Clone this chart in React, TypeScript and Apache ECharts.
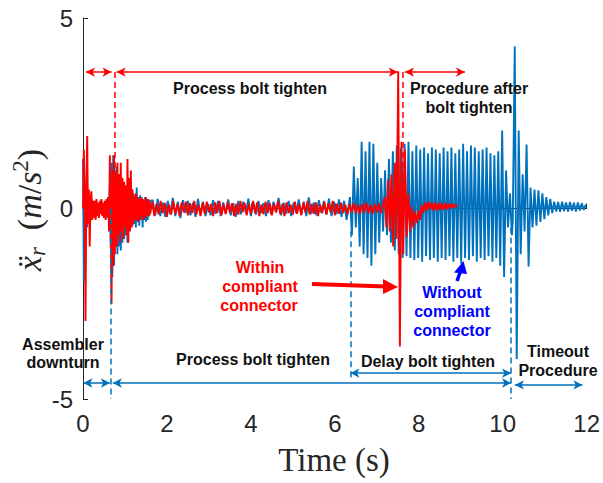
import React, { useEffect, useRef } from "react";
import * as echarts from "echarts";

// ---------- axes ----------
const xTickValues = [0, 2, 4, 6, 8, 10, 12];
const yTickValues = [-5, 0, 5];

// ---------- blue: without compliant connector (sampled segments) ----------
const blueOnsetStart = 0;
const blueOnsetStep = 0.02;
const blueOnsetValues = [
  1.3, -1.92, 0.5, -0.6, 0.4, -0.5, 0.3, -0.35, 0.25, -0.3,
  0.25, -0.22, 0.2, -0.2, 0.15, -0.25, 0.2, -0.15, 0.12, -0.2,
  0.15, -0.12, 0.2, -0.15, 0.12, -0.2, 0.15, -0.12, 0.2, -0.25,
  0.3, -0.4, 0.6, -1.0, 1.2, -1.8, 1.4, -1.5, 1.0, -0.9,
  1.1, -1.2, 0.9, -1.0, 0.8, -1.1, 0.7, -0.9, 0.6, -0.8,
  0.6, -0.7, 0.5, -0.9, 0.5, -0.6, 0.4, -0.5, 0.5, -0.45,
  0.4, -0.4, 0.35, -0.5, 0.55, -0.35, 0.3, -0.45, 0.35, -0.3,
  0.3, -0.5, 0.25, -0.3, 0.3, -0.35, 0.2, -0.3, 0.25, -0.2,
  0.2,
];
const blueQuietStart = 1.66;
const blueQuietStep = 0.06;
const blueQuietValues = [
  0.22, -0.18, 0.25, -0.2, 0.15, -0.22, 0.2, -0.15, 0.28, -0.2,
  0.18, -0.25, 0.22, -0.12, 0.2, -0.18, 0.15, -0.22, 0.25, -0.16,
  0.18, -0.2, 0.12, -0.18, 0.22, -0.14, 0.2, -0.2, 0.16, -0.12,
  0.24, -0.18, 0.14, -0.22, 0.2, -0.15, 0.18, -0.12, 0.26, -0.2,
  0.15, -0.16, 0.2, -0.12, 0.14, -0.2, 0.22, -0.15, 0.18, -0.1,
  0.28, -0.18, 0.15, -0.14, 0.2, -0.2, 0.16, -0.12, 0.24, -0.15,
  0.18, -0.2, 0.29, -0.14, 0.16, -0.18, 0.22, -0.12, 0.2, -0.16,
  0.26, -0.2, 0.18, -0.15, 0.24, -0.22, 0.2, -0.3, 0.15,
];
const blueDelayStart = 6.36;
const blueDelayStep = 0.0465;
const blueDelayValues = [
  0.3, -0.7, 1.1, -0.5, 0.8, -1.0, 1.75, -1.2, 1.5, -1.3,
  1.75, -1.5, 1.7, -1.2, 1.2, -0.9, 0.8, -0.6, 1.0, -0.7,
  1.3, -0.9, 1.5, -1.1, 1.65, -1.2, 1.6, -1.3, 1.7, -1.25,
  1.75, -1.3, 1.5, -1.35, 1.65, -1.3, 1.55, -1.4, 1.6, -1.25,
  1.45, -1.35, 1.6, -1.3, 1.55, -1.4, 1.45, -1.3, 1.6, -1.35,
  1.5, -1.25, 1.6, -1.4, 1.45, -1.3, 1.55, -1.45, 1.7, -1.3,
  1.5, -1.35, 1.65, -1.25, 1.6, -1.4, 1.5, -1.3, 1.55, -1.35,
  1.6, -1.25, 1.45, -1.4, 1.4, -1.3, 1.5, -1.5, 2.05, -1.8,
  1.0, -0.5, 0.4, -0.7,
];
const blueTimeoutStart = 10.24;
const blueTimeoutStep = 0.047;
const blueTimeoutValues = [
  -0.3, 4.25, -3.95, 2.05, -1.2, 0.9, -0.6, 1.68, -1.52, 0.55,
  -0.5, 0.5, -0.45, 0.48, -0.35, 0.4, -0.28, 0.3, -0.18, 0.25,
  -0.12, 0.18, -0.08, 0.17, -0.09, 0.18, -0.07, 0.16, -0.08, 0.17,
  -0.06, 0.15, -0.08, 0.16, -0.05, 0.14, -0.04, 0.1,
];

// ---------- red: within compliant connector ----------
const redOnsetStart = 0;
const redOnsetStep = 0.02;
const redOnsetValues = [
  0, 1.55, 0.3, -2.95, 0.6, 1.9, -0.4, 0.5, -1.0, 0.2,
  0.45, -0.3, 0.2, -0.25, 0.2, -0.3, 0.25, -0.2, 0.15, -0.25,
  0.2, -0.15, 0.25, -0.2, 0.15, -0.25, 0.2, -0.3, 0.25, -0.2,
  0.3, -0.6, 1.4, -0.5, -2.5, 1.0, -1.5, 1.4, -1.2, 0.9,
  -1.0, 1.2, -0.7, 0.9, -0.9, 1.2, -0.6, 0.8, -0.8, 0.7,
  -0.5, 0.6, -0.7, 1.3, -0.9, 0.8, -0.6, 1.0, -0.5, 0.5,
  -0.4, 0.35, -0.3, 0.4, -0.3, 0.3, -0.35, 0.25, -0.3, 0.3,
  -0.2, 0.25, -0.3, 0.2, -0.25, 0.3, -0.2, 0.25, -0.2, 0.2,
  -0.15,
];
const redQuietStart = 1.65;
const redQuietStep = 0.05;
const redQuietValues = [
  0.18, -0.2, 0.12, -0.15, 0.2, -0.12, 0.15, -0.22, 0.1, -0.16,
  0.2, -0.14, 0.12, -0.2, 0.16, -0.1, 0.18, -0.18, 0.14, -0.12,
  0.2, -0.16, 0.1, -0.2, 0.15, -0.14, 0.18, -0.1, 0.12, -0.2,
  0.16, -0.12, 0.2, -0.18, 0.1, -0.15, 0.18, -0.12, 0.14, -0.2,
  0.12, -0.16, 0.2, -0.1, 0.15, -0.18, 0.12, -0.14, 0.2, -0.12,
  0.16, -0.2, 0.1, -0.15, 0.18, -0.12, 0.14, -0.18, 0.12, -0.1,
  0.2, -0.15, 0.12, -0.2, 0.16, -0.12, 0.1, -0.16, 0.18, -0.14,
  0.12, -0.18, 0.15, -0.1, 0.2, -0.16, 0.12, -0.14, 0.16, -0.2,
  0.1, -0.12, 0.18, -0.16, 0.14, -0.1, 0.2, -0.18, 0.12, -0.14,
  0.15, -0.12, 0.1, -0.15, 0.12, -0.1, 0.14, -0.12, 0.1, -0.14,
  0.12, -0.1, 0.15, -0.12, 0.1, -0.14, 0.12, -0.1, 0.14, -0.12,
  0.1,
];
const redEventStart = 7.19;
const redEventStep = 0.04;
const redEventValues = [
  0.3, -0.5, 0.76, -0.6, 0.9, -1.0, 1.2, -0.8, 3.6, -3.62,
  1.75, -1.2, 1.55, -0.75, 0.4, -0.6, 0.05, -0.5, -0.08, -0.38,
  -0.05, -0.3, 0.1, -0.12, 0.15, -0.05, 0.18, -0.02, 0.15, -0.06,
  0.16, -0.04, 0.14, -0.05, 0.15, -0.03, 0.14, -0.02, 0.12, 0.0,
  0.13, 0.02, 0.1, 0.05,
];

// ---------- phase annotations (data coordinates) ----------
const redArrowLevel = 3.58;
const redPhaseSpans = [
  [0.07, 0.68],
  [0.8, 7.5],
  [7.67, 9.1],
];
const redPhaseBounds = [0.76, 7.62];
const bluePhaseSpans = [
  [0.01, 0.64, -4.58],
  [0.71, 10.2, -4.58],
  [6.37, 10.2, -4.32],
  [10.29, 11.9, -4.63],
];
const bluePhaseBounds = [
  [0.67, 0, -5],
  [6.37, -0.6, -4.45],
  [10.2, -0.5, -5],
];

const BLUE = "#0072BD";
const RED = "#FF0000";
const AXIS = "#262626";

function toPairs(start: number, step: number, values: number[]) {
  return values.map((v, i) => [Math.round((start + i * step) * 10000) / 10000, v]);
}

const blueData = [
  ...toPairs(blueOnsetStart, blueOnsetStep, blueOnsetValues),
  ...toPairs(blueQuietStart, blueQuietStep, blueQuietValues),
  ...toPairs(blueDelayStart, blueDelayStep, blueDelayValues),
  ...toPairs(blueTimeoutStart, blueTimeoutStep, blueTimeoutValues),
];
const redData = [
  ...toPairs(redOnsetStart, redOnsetStep, redOnsetValues),
  ...toPairs(redQuietStart, redQuietStep, redQuietValues),
  ...toPairs(redEventStart, redEventStep, redEventValues),
];

const arrowItem = (a: number, b: number, y: number) => [
  { coord: [a, y] },
  { coord: [b, y] },
];
const dashItem = (t: number, y0: number, y1: number) => [
  { coord: [t, y0], symbol: "none", lineStyle: { type: [6, 4] } },
  { coord: [t, y1], symbol: "none" },
];

const annFont = '"Liberation Sans", Arial, sans-serif';
const txt = (text: string, x: number, y: number, fill = "#111") => ({
  type: "text",
  x,
  y,
  silent: true,
  z: 100,
  style: {
    text,
    fill,
    fontSize: 16,
    fontWeight: "bold",
    fontFamily: annFont,
    align: "center",
    verticalAlign: "middle",
    lineHeight: 16,
  },
});

const serif = '"Liberation Serif", "DejaVu Serif", serif';

const option: any = {
  animation: false,
  backgroundColor: "#fff",
  grid: { left: 83, right: 16, top: 18, bottom: 84, containLabel: false },
  xAxis: {
    type: "value",
    min: xTickValues[0],
    max: xTickValues[xTickValues.length - 1],
    interval: 2,
    axisLine: { show: true, lineStyle: { color: AXIS, width: 1 } },
    axisTick: { show: true, inside: true, length: 5, lineStyle: { color: AXIS } },
    axisLabel: {
      fontSize: 24,
      color: AXIS,
      fontFamily: '"Liberation Sans", Arial, sans-serif',
      margin: 12,
    },
    splitLine: { show: false },
  },
  yAxis: {
    type: "value",
    min: yTickValues[0],
    max: yTickValues[yTickValues.length - 1],
    interval: 5,
    axisLine: { show: true, lineStyle: { color: AXIS, width: 1 } },
    axisTick: { show: true, inside: true, length: 5, lineStyle: { color: AXIS } },
    axisLabel: {
      fontSize: 24,
      color: AXIS,
      fontFamily: '"Liberation Sans", Arial, sans-serif',
      margin: 10,
    },
    splitLine: { show: false },
  },
  series: [
    {
      name: "Without compliant connector",
      type: "line",
      data: blueData,
      showSymbol: false,
      symbol: "none",
      z: 2,
      lineStyle: { color: BLUE, width: 1.9 },
      markLine: {
        silent: true,
        animation: false,
        label: { show: false },
        symbol: ["arrow", "arrow"],
        symbolSize: [7, 9],
        lineStyle: { color: BLUE, width: 1.5, type: "solid" },
        emphasis: { disabled: true },
        data: [
          ...bluePhaseSpans.map(([a, b, y]) => arrowItem(a, b, y)),
          ...bluePhaseBounds.map(([t, y0, y1]) => dashItem(t, y0, y1)),
        ],
      },
    },
    {
      name: "Within compliant connector",
      type: "line",
      data: redData,
      showSymbol: false,
      symbol: "none",
      z: 3,
      lineStyle: { color: RED, width: 1.9 },
      markLine: {
        silent: true,
        animation: false,
        label: { show: false },
        symbol: ["arrow", "arrow"],
        symbolSize: [7, 9],
        lineStyle: { color: RED, width: 1.5, type: "solid" },
        emphasis: { disabled: true },
        data: [
          ...redPhaseSpans.map(([a, b]) => arrowItem(a, b, redArrowLevel)),
          ...redPhaseBounds.map((t) => dashItem(t, redArrowLevel, 0)),
        ],
      },
    },
  ],
  graphic: [
    txt("Process bolt tighten", 250, 88),
    txt("Procedure after", 469, 88),
    txt("bolt tighten", 469, 107),
    txt("Assembler", 63, 344),
    txt("downturn", 63, 362),
    txt("Process bolt tighten", 253, 359),
    txt("Delay bolt tighten", 428, 361),
    txt("Timeout", 558, 351),
    txt("Procedure", 558, 370),
    txt("Within", 260, 267, RED),
    txt("compliant", 260, 286, RED),
    txt("connector", 259, 305, RED),
    txt("Without", 452, 292, "#0000FF"),
    txt("compliant", 452, 311, "#0000FF"),
    txt("connector", 452, 330, "#0000FF"),
    {
      type: "polyline",
      silent: true,
      z: 100,
      shape: { points: [[312, 284], [386, 286.5]] },
      style: { stroke: RED, lineWidth: 4, fill: null },
    },
    {
      type: "polygon",
      silent: true,
      z: 100,
      shape: { points: [[383, 279], [398, 287], [383, 294]] },
      style: { fill: RED },
    },
    {
      type: "polyline",
      silent: true,
      z: 100,
      shape: { points: [[457, 281], [461, 270]] },
      style: { stroke: "#0000FF", lineWidth: 3.5, fill: null },
    },
    {
      type: "polygon",
      silent: true,
      z: 100,
      shape: { points: [[454, 272.5], [463.5, 261], [467, 274]] },
      style: { fill: "#0000FF" },
    },
    {
      type: "text",
      x: 334,
      y: 460,
      silent: true,
      style: {
        text: "Time (s)",
        fill: AXIS,
        fontSize: 33,
        fontFamily: serif,
        align: "center",
        verticalAlign: "middle",
      },
    },
    {
      type: "text",
      x: 29,
      y: 210,
      rotation: Math.PI / 2,
      silent: true,
      style: {
        text: "{i|ẍ}{sub|r}{n|  (}{i|m}{n|/}{i|s}{sup|2}{n|)}",
        fill: AXIS,
        align: "center",
        verticalAlign: "middle",
        rich: {
          i: { fontSize: 34, fontStyle: "italic", fontFamily: serif, fill: AXIS, lineHeight: 40 },
          n: { fontSize: 34, fontFamily: serif, fill: AXIS, lineHeight: 40 },
          sub: {
            fontSize: 23,
            fontStyle: "italic",
            fontFamily: serif,
            fill: AXIS,
            lineHeight: 22,
            verticalAlign: "bottom",
          },
          sup: {
            fontSize: 23,
            fontFamily: serif,
            fill: AXIS,
            lineHeight: 22,
            verticalAlign: "top",
          },
        },
      },
    },
  ],
};

export default function App() {
  const ref = useRef<HTMLDivElement>(null);
  useEffect(() => {
    document.body.style.margin = "0";
    const chart = echarts.init(ref.current!, null, { renderer: "svg" });
    chart.setOption(option);
    return () => chart.dispose();
  }, []);
  return <div ref={ref} style={{ width: 603, height: 483 }} />;
}
